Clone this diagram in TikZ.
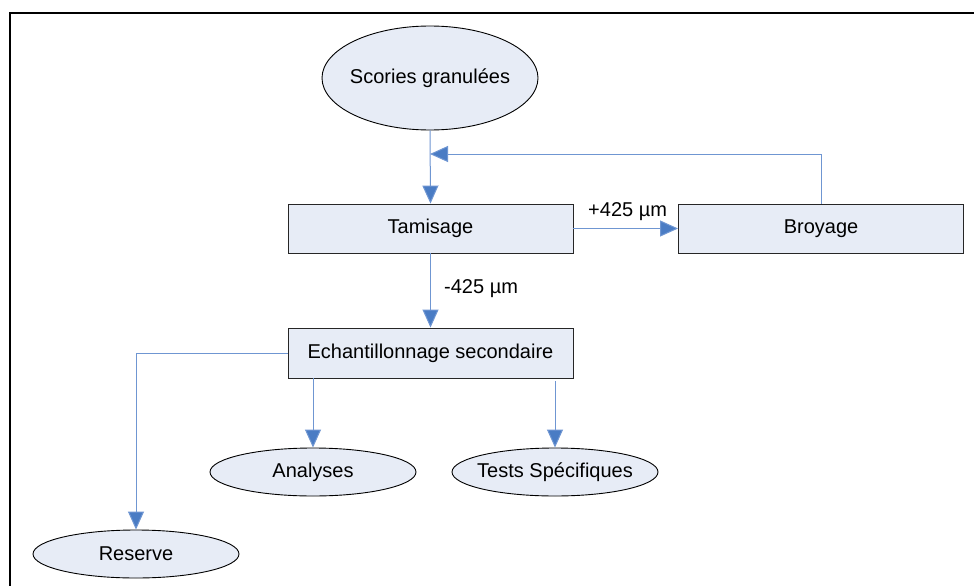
\documentclass[tikz,border=0pt]{standalone}
\usepackage{fontspec}
\setmainfont{Liberation Sans}
\usetikzlibrary{shapes.geometric,arrows.meta}
\definecolor{boxfill}{HTML}{E7ECF6}
\definecolor{linkblue}{HTML}{4A7CC4}
\definecolor{linklight}{HTML}{6F96D2}
\newcommand{\zw}[1]{\makebox[0pt]{#1}}
\tikzset{
  every node/.style={font=\fontsize{20}{24}\selectfont, text=black},
  procbox/.style={draw=black!85, line width=0.9pt, fill=boxfill, rectangle, minimum width=285pt, minimum height=49pt, inner sep=0pt},
  termell/.style={draw=black, line width=0.9pt, fill=boxfill, ellipse, inner sep=0pt},
  link/.style={draw=linklight, line width=1pt, -{Triangle[length=18pt,width=16pt,fill=linkblue]}},
  lbl/.style={anchor=west, inner sep=0pt}
}
\begin{document}
\begin{tikzpicture}[x=1pt,y=-1pt]
\useasboundingbox (0,0) rectangle (974,586);
\fill[white] (0,0) rectangle (974,586);
% frame
\draw[line width=1.6pt, black] (10,586) -- (10,13) -- (974,13);
% nodes
\node[termell, minimum width=216pt, minimum height=104pt] (scor) at (430,78) {\zw{Scories granulées}};
\node[procbox] (tam) at (430.5,228.5) {Tamisage};
\node[procbox] (broy) at (821,228.5) {Broyage};
\node[procbox, minimum height=50pt] (ech) at (430.5,353) {Echantillonnage secondaire};
\node[termell, minimum width=206pt, minimum height=48pt] (ana) at (313,472) {\zw{Analyses}};
\node[termell, minimum width=206pt, minimum height=48pt] (tests) at (555,472) {\zw{Tests Spécifiques}};
\node[termell, minimum width=206pt, minimum height=48pt] (res) at (136,554) {\zw{Reserve}};
\coordinate (fb) at (430,154);
% connectors
\draw[link] (scor.south) -- (tam.north);
\draw[link] (broy.north) |- (fb);
\draw[link] (tam.east) -- (broy.west);
\draw[link] (tam.south) -- (ech.north);
\draw[link] (ech.west) -| (res.north);
\draw[link] (ana.north |- ech.south) -- (ana.north);
\draw[link] ([yshift=-3pt]tests.north |- ech.south) -- (tests.north);
% labels
\node[lbl] (lplus) at (588,212) {+425 µm};
\node[lbl] (lminus) at (444,289) {-425 µm};
\end{tikzpicture}
\end{document}
